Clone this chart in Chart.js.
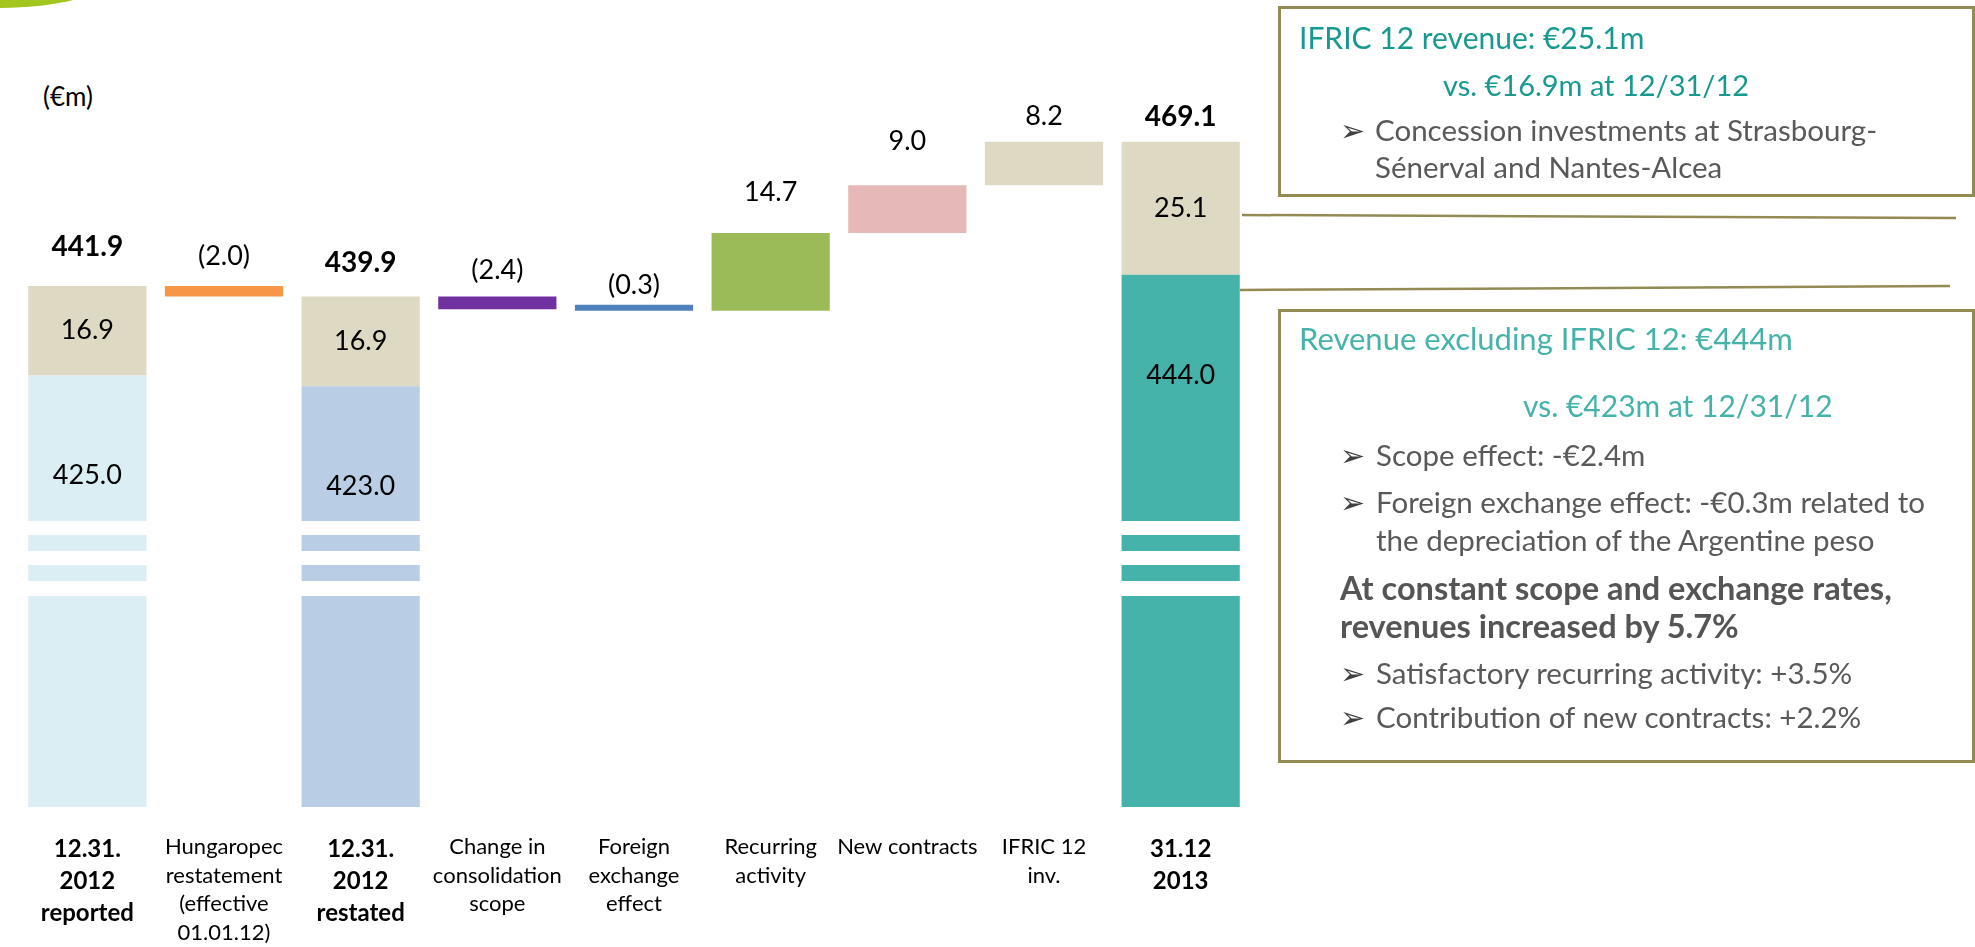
<!DOCTYPE html>
<html>
<head>
<meta charset="utf-8">
<title>Revenue bridge 2012 - 2013</title>
<script src="https://cdn.jsdelivr.net/npm/chart.js@4.4.1/dist/chart.umd.min.js"></script>
<style>
  html, body { margin: 0; padding: 0; background: #fff; }
  body { width: 1975px; height: 947px; position: relative; overflow: hidden; font-family: Lato, 'Open Sans', sans-serif; }
  #chartBox { position: absolute; left: 0; top: 0; width: 1260px; height: 947px; }
  .swoosh { position: absolute; left: -120px; top: -60px; width: 235px; height: 68px; border-radius: 50%; background: #A3C61E; }
  .unit { position: absolute; left: 43px; top: 96px; transform: translateY(-50%); font-size: 26px; color: #000; }
  .box { position: absolute; left: 1278px; width: 697px; border: 3px solid #948A54; box-sizing: border-box; }
  .t { position: absolute; white-space: nowrap; transform: translateY(-50%); line-height: 1.2; font-size: 29.5px; color: #595959; }
  .hd1 { color: #17998F; font-size: 30px; }
  .hd2 { color: #45B3A9; font-size: 30px; }
  .sm { font-size: 29px; }
  .lg { font-size: 31px; }
  .b { font-weight: bold; font-size: 32.5px; color: #555; }
  .arrow { font-family: 'DejaVu Sans', sans-serif; font-size: 30px; color: #404040; }
  svg { position: absolute; left: 0; top: 0; pointer-events: none; }
</style>
</head>
<body>
<div class="swoosh"></div>
<div class="unit">(€m)</div>
<div id="chartBox"><canvas id="bridge"></canvas></div>

<svg width="1975" height="947">
  <line x1="1242" y1="215" x2="1956" y2="218" stroke="#948A54" stroke-width="2.5"/>
  <line x1="1240" y1="290" x2="1950" y2="286" stroke="#948A54" stroke-width="2.5"/>
</svg>

<div class="box" style="top:6px;height:191px"></div>
<div class="t hd1" style="left:1299px;top:37px">IFRIC 12 revenue: €25.1m</div>
<div class="t hd1 sm" style="left:1443px;top:85px">vs. €16.9m at 12/31/12</div>
<div class="t arrow" style="left:1340px;top:131px">➢</div>
<div class="t" style="left:1375px;top:130px">Concession investments at Strasbourg-</div>
<div class="t" style="left:1375px;top:167px">Sénerval and Nantes-Alcea</div>

<div class="box" style="top:309px;height:454px"></div>
<div class="t hd2 lg" style="left:1299px;top:339px">Revenue excluding IFRIC 12: €444m</div>
<div class="t hd2" style="left:1523px;top:405px">vs. €423m at 12/31/12</div>
<div class="t arrow" style="left:1340px;top:456px">➢</div>
<div class="t" style="left:1376px;top:455px">Scope effect: -€2.4m</div>
<div class="t arrow" style="left:1340px;top:503px">➢</div>
<div class="t" style="left:1376px;top:502px">Foreign exchange effect: -€0.3m related to</div>
<div class="t" style="left:1376px;top:540px">the depreciation of the Argentine peso</div>
<div class="t b" style="left:1340px;top:587px">At constant scope and exchange rates,</div>
<div class="t b" style="left:1340px;top:625px">revenues increased by 5.7%</div>
<div class="t arrow" style="left:1340px;top:674px">➢</div>
<div class="t" style="left:1376px;top:673px">Satisfactory recurring activity: +3.5%</div>
<div class="t arrow" style="left:1340px;top:718px">➢</div>
<div class="t" style="left:1376px;top:717px">Contribution of new contracts: +2.2%</div>

<script>
'use strict';

// ── Data ─────────────────────────────────────────────────────
const CATEGORIES = [
  ['12.31.', '2012', 'reported'],
  ['Hungaropec', 'restatement', '(effective', '01.01.12)'],
  ['12.31.', '2012', 'restated'],
  ['Change in', 'consolidation', 'scope'],
  ['Foreign', 'exchange', 'effect'],
  ['Recurring', 'activity'],
  ['New contracts'],
  ['IFRIC 12', 'inv.'],
  ['31.12', '2013']
];
const TOTALS     = [441.9, null, 439.9, null, null, null, null, null, 469.1];
const EX_IFRIC   = [425.0, null, 423.0, null, null, null, null, null, 444.0];
const IFRIC_PART = [16.9,  null, 16.9,  null, null, null, null, null, 25.1];
const VARIATIONS = [null, -2.0, null, -2.4, -0.3, 14.7, 9.0, 8.2, null];

// axis range (the tall bars are cut, as in the slide)
const Y_MIN = 343.6;
const Y_MAX = 488.3;

// ── Styles ───────────────────────────────────────────────────
const BAR_COLORS  = ['#DAEEF3', '#F79646', '#B9CDE5', '#7030A0', '#4F81BD', '#9BBB59', '#E6B9B8', '#DDD9C3', '#45B3A9'];
const IFRIC_COLOR = '#DDD9C3';
const LABEL_LIFT  = [39, 30, 34, 26, 20, 41, 44, 25, 25];   // px between bar top and its value label
const BASE_LABEL_DROP = 100;                               // px below segment top for the ex-IFRIC value
const BREAK_BANDS = [[211, 226], [242, 256], [272, 286]];  // white cuts, px above the axis line

// build the floating bars of the bridge
let level = 0;
const baseData = [];
const ifricData = [];
CATEGORIES.forEach((_, i) => {
  if (TOTALS[i] !== null) {
    level = TOTALS[i];
    baseData.push(EX_IFRIC[i]);
    ifricData.push([EX_IFRIC[i], EX_IFRIC[i] + IFRIC_PART[i]]);
  } else {
    const next = +(level + VARIATIONS[i]).toFixed(1);
    baseData.push([level, next]);
    ifricData.push(null);
    level = next;
  }
});

const fmt = v => v < 0 ? `(${Math.abs(v).toFixed(1)})` : v.toFixed(1);

// ── Labels and axis cuts ─────────────────────────────────────
const bridgeLabels = {
  id: 'bridgeLabels',
  afterDatasetsDraw(chart) {
    const { ctx, chartArea } = chart;
    const bars = chart.getDatasetMeta(0).data;
    const tops = chart.getDatasetMeta(1).data;
    ctx.save();

    ctx.fillStyle = '#fff';
    TOTALS.forEach((t, i) => {
      if (t === null) return;
      const bar = bars[i];
      BREAK_BANDS.forEach(([a, b]) => {
        ctx.fillRect(bar.x - bar.width / 2 - 2, chartArea.bottom - b, bar.width + 4, b - a);
      });
    });

    ctx.textAlign = 'center';
    ctx.textBaseline = 'middle';
    ctx.fillStyle = '#000';
    CATEGORIES.forEach((_, i) => {
      const bar = bars[i];
      if (TOTALS[i] !== null) {
        const seg = tops[i];
        ctx.font = 'bold 28px Lato';
        ctx.fillText(TOTALS[i].toFixed(1), seg.x, seg.y - LABEL_LIFT[i]);
        ctx.font = '27px Lato';
        ctx.fillText(IFRIC_PART[i].toFixed(1), seg.x, (seg.y + seg.base) / 2);
        ctx.fillText(EX_IFRIC[i].toFixed(1), seg.x, seg.base + BASE_LABEL_DROP);
      } else {
        ctx.font = '27px Lato';
        ctx.fillText(fmt(VARIATIONS[i]), bar.x, Math.min(bar.y, bar.base) - LABEL_LIFT[i]);
      }
    });
    ctx.restore();
  }
};

new Chart(document.getElementById('bridge'), {
  type: 'bar',
  data: {
    labels: CATEGORIES,
    datasets: [
      { label: 'Revenue', data: baseData, backgroundColor: BAR_COLORS, grouped: false,
        minBarLength: 6, barPercentage: 0.865, categoryPercentage: 1 },
      { label: 'IFRIC 12', data: ifricData, backgroundColor: IFRIC_COLOR, grouped: false,
        barPercentage: 0.865, categoryPercentage: 1 }
    ]
  },
  options: {
    responsive: true,
    maintainAspectRatio: false,
    animation: false,
    layout: { padding: { left: 19, right: 11, top: 40, bottom: 0 } },
    scales: {
      x: {
        grid: { display: false, drawTicks: false },
        border: { display: false },
        afterFit: (scale) => { scale.height = 140; },
        ticks: {
          color: '#000',
          autoSkip: false,
          maxRotation: 0,
          padding: 26,
          font: (c) => TOTALS[c.index] !== null
            ? { family: 'Lato', size: 24, weight: 'bold', lineHeight: 32 / 24 }
            : { family: 'Lato', size: 22, lineHeight: 28.5 / 22 }
        }
      },
      y: { display: false, min: Y_MIN, max: Y_MAX, grid: { display: false } }
    },
    plugins: { legend: { display: false }, tooltip: { enabled: false } }
  },
  plugins: [bridgeLabels]
});
</script>
</body>
</html>
